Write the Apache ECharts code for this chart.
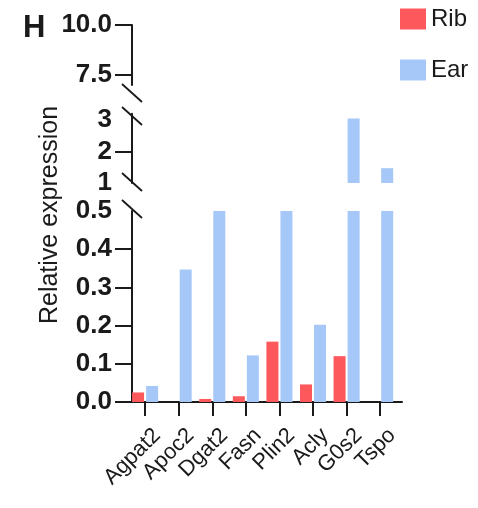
<!DOCTYPE html>
<html>
<head>
<meta charset="utf-8">
<script src="https://cdn.jsdelivr.net/npm/echarts@6/dist/echarts.min.js"></script>
<style>
  html, body { margin: 0; padding: 0; background: #fff; }
  #chart { width: 478px; height: 508px; }
</style>
</head>
<body>
<div id="chart"></div>
<script>
const categories = ['Agpat2', 'Apoc2', 'Dgat2', 'Fasn', 'Plin2', 'Acly', 'G0s2', 'Tspo'];
const ribValues = [0.025, 0, 0.008, 0.015, 0.158, 0.046, 0.12, 0];
const earValues = [0.042, 0.347, 0.75, 0.122, 0.75, 0.202, 3.05, 1.47];

const topLabels = [7.5, 10];
const midLabels = [1, 2, 3];
const lowLabels = [0, 0.1, 0.2, 0.3, 0.4, 0.5];

const FONT = 'Liberation Sans, Arial, sans-serif';
const INK = '#1a1a1a';
const RIB = '#fd585c';
const EAR = '#a6c8f8';

// three stacked pieces of the broken y axis
const segments = [
  { min: 7, max: 10, top: 25, height: 60, labels: topLabels, ticks: [7.5, 10], fmt: v => v.toFixed(1) },
  { min: 1, max: 3.2, top: 113.7, height: 69.3, labels: midLabels, ticks: [2], fmt: v => String(v) },
  { min: 0, max: 0.5, top: 211, height: 191, labels: lowLabels, ticks: [0, 0.1, 0.2, 0.3, 0.4], fmt: v => v.toFixed(1) },
];
const axisX = 132;
const plotW = 270;
const xMin = -0.39;
const xMax = 7.65;
const labelShift = 12 / (plotW / (xMax - xMin)); // rotated names sit a little right of their tick
const catIdx = categories.map((c, k) => k);

const chart = echarts.init(document.getElementById('chart'));

const grids = segments.map(s => ({
  left: axisX, width: plotW, top: s.top, height: s.height, outerBoundsMode: 'none',
}));

const xAxes = segments.map((s, i) => ({
  type: 'value',
  gridIndex: i,
  position: 'bottom',
  min: xMin,
  max: xMax,
  show: i === segments.length - 1,
  splitLine: { show: false },
  axisLine: { show: true, onZero: false, lineStyle: { color: INK, width: 2 } },
  axisTick: { show: true, length: 14, lineStyle: { color: INK, width: 2 }, customValues: catIdx },
  axisLabel: { show: false },
}));

// names only, on a copy of the bottom axis
xAxes.push({
  type: 'value',
  gridIndex: segments.length - 1,
  position: 'bottom',
  min: xMin - labelShift,
  max: xMax - labelShift,
  splitLine: { show: false },
  axisLine: { show: false, onZero: false },
  axisTick: { show: false },
  axisLabel: {
    customValues: catIdx,
    formatter: v => categories[Math.round(v)],
    showMinLabel: true,
    showMaxLabel: true,
    rotate: 45,
    margin: 30,
    lineHeight: 18,
    fontSize: 22,
    fontFamily: FONT,
    color: INK,
  },
});

const yAxes = segments.map((s, i) => ({
  type: 'value',
  gridIndex: i,
  min: s.min,
  max: s.max,
  splitLine: { show: false },
  axisLine: { show: true, onZero: false, lineStyle: { color: INK, width: 2 } },
  axisTick: { show: true, length: 17, lineStyle: { color: INK, width: 2 }, customValues: s.ticks },
  axisLabel: {
    customValues: s.labels,
    formatter: s.fmt,
    showMinLabel: true,
    showMaxLabel: true,
    margin: 20,
    fontSize: 26,
    fontWeight: 'bold',
    fontFamily: FONT,
    color: INK,
  },
}));

const series = [];
segments.forEach((s, i) => {
  series.push({
    name: 'Rib', type: 'bar', xAxisIndex: i, yAxisIndex: i,
    barWidth: 12, barGap: '17%', clip: true,
    itemStyle: { color: RIB },
    data: ribValues.map((v, k) => [k, v]),
  });
  series.push({
    name: 'Ear', type: 'bar', xAxisIndex: i, yAxisIndex: i,
    barWidth: 12, barGap: '17%', clip: true,
    itemStyle: { color: EAR },
    data: earValues.map((v, k) => [k, v]),
  });
});

// break marks at the ends of each axis piece
const breakCenters = [93, 116, 182, 209];
const breaks = breakCenters.map(cy => ({
  type: 'line',
  shape: { x1: axisX - 10, y1: cy - 9, x2: axisX + 10, y2: cy + 9 },
  style: { stroke: INK, lineWidth: 1.8 },
  z: 10,
}));

chart.setOption({
  animation: false,
  title: {
    text: 'H', left: 18, top: 8,
    textStyle: { fontSize: 31, fontWeight: 'bold', color: INK, fontFamily: FONT },
  },
  legend: {
    data: ['Rib', 'Ear'],
    orient: 'vertical',
    left: 395,
    top: 2,
    icon: 'rect',
    itemWidth: 26,
    itemHeight: 21,
    itemGap: 27,
    textStyle: { fontSize: 24, color: INK, fontFamily: FONT },
  },
  grid: grids,
  xAxis: xAxes,
  yAxis: yAxes,
  series: series,
  graphic: [
    {
      type: 'text',
      x: 50, y: 215,
      rotation: Math.PI / 2,
      style: { text: 'Relative expression', fontSize: 25, fontFamily: FONT, fill: INK, align: 'center', verticalAlign: 'middle' },
    },
    ...breaks,
  ],
});
</script>
</body>
</html>
